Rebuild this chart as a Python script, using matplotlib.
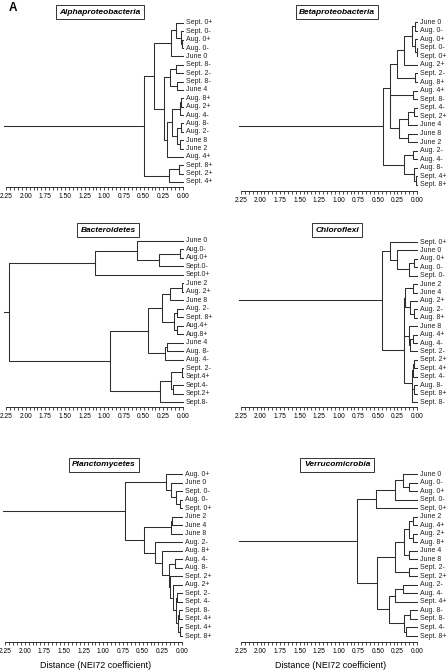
import matplotlib
matplotlib.use('Agg')
import matplotlib.pyplot as plt
from matplotlib.ticker import MultipleLocator

plt.rcParams['font.family'] = ['Liberation Sans', 'DejaVu Sans']

W, H = 448, 671

# ── 데이터: 잎 라벨(위→아래) + 병합 (a, b, 거리) ; 새 노드 id는 20부터 ──
alpha_labels = ["Sept. 0+", "Sept. 0-", "Aug. 0+", "Aug. 0-", "June 0",
                "Sept. 8-", "Sept. 2-", "Sept. 8-", "June 4", "Aug. 8+",
                "Aug. 2+", "Aug. 4-", "Aug. 8-", "Aug. 2-", "June 8",
                "June 2", "Aug. 4+", "Sept. 8+", "Sept. 2+", "Sept. 4+"]
alpha_merges = [(2, 3, 0.01), (1, 20, 0.03), (0, 21, 0.09), (22, 4, 0.15),
                (5, 6, 0.09), (7, 8, 0.08), (24, 25, 0.17), (9, 10, 0.02),
                (27, 11, 0.04), (12, 13, 0.02), (14, 15, 0.04), (29, 30, 0.07),
                (28, 31, 0.14), (32, 16, 0.20), (26, 33, 0.245), (23, 34, 0.365),
                (17, 18, 0.05), (36, 19, 0.175), (35, 37, 0.50)]

beta_labels = ["June 0", "Aug. 0-", "Aug. 0+", "Sept. 0-", "Sept. 0+",
               "Aug. 2+", "Sept. 2-", "Aug. 8+", "Aug. 4+", "Sept. 8-",
               "Sept. 4-", "Sept. 2+", "June 4", "June 8", "June 2",
               "Aug. 2-", "Aug. 4-", "Aug. 8-", "Sept. 4+", "Sept. 8+"]
beta_merges = [(0, 1, 0.02), (3, 4, 0.005), (2, 21, 0.02), (20, 22, 0.07),
               (23, 5, 0.16), (6, 7, 0.02), (24, 25, 0.25), (8, 9, 0.055),
               (10, 11, 0.035), (28, 12, 0.11), (13, 14, 0.115), (29, 30, 0.225),
               (27, 31, 0.34), (26, 32, 0.35), (15, 16, 0.055), (18, 19, 0.01),
               (17, 35, 0.04), (34, 36, 0.17), (33, 37, 0.43)]

bact_labels = ["June 0", "Aug.0-", "Aug.0+", "Sept.0-", "Sept.0+",
               "June 2", "Aug. 2+", "June 8", "Aug. 2-", "Sept. 8+",
               "Aug.4+", "Aug.8+", "June 4", "Aug. 8-", "Aug. 4-",
               "Sept. 2-", "Sept.4+", "Sept.4-", "Sept.2+", "Sept.8-"]
bact_merges = [(1, 2, 0.035), (20, 3, 0.31), (0, 21, 0.585), (22, 4, 1.125),
               (5, 6, 0.015), (24, 7, 0.16), (8, 9, 0.075), (10, 11, 0.075),
               (26, 27, 0.12), (25, 28, 0.27), (12, 13, 0.205), (30, 14, 0.225),
               (29, 31, 0.445), (15, 16, 0.015), (17, 18, 0.13), (33, 34, 0.15),
               (35, 19, 0.29), (32, 36, 0.925), (23, 37, 2.21)]

chloro_labels = ["Sept. 0+", "June 0", "Aug. 0+", "Aug. 0-", "Sept. 0-",
                 "June 2", "June 4", "Aug. 2+", "Aug. 2-", "Aug. 8+",
                 "June 8", "Aug. 4+", "Aug. 4-", "Sept. 2-", "Sept. 2+",
                 "Sept. 4+", "Sept. 4-", "Aug. 8-", "Sept. 8+", "Sept. 8-"]
chloro_merges = [(2, 3, 0.04), (20, 4, 0.105), (1, 21, 0.255), (0, 22, 0.34),
                 (5, 6, 0.055), (8, 9, 0.04), (7, 25, 0.095), (24, 26, 0.15),
                 (11, 12, 0.05), (28, 13, 0.09), (10, 29, 0.105), (27, 30, 0.16),
                 (14, 15, 0.035), (32, 16, 0.05), (17, 18, 0.04), (34, 19, 0.065),
                 (33, 35, 0.07), (31, 36, 0.17), (23, 37, 0.45)]

planc_labels = ["Aug. 0+", "June 0", "Sept. 0-", "Aug. 0-", "Sept. 0+",
                "June 2", "June 4", "June 8", "Aug. 2-", "Aug. 8+",
                "Aug. 4-", "Aug. 8-", "Sept. 2+", "Aug. 2+", "Sept. 2-",
                "Sept. 4-", "Sept. 8-", "Sept. 4+", "Sept. 4+", "Sept. 8+"]
planc_merges = [(3, 4, 0.02), (2, 20, 0.07), (1, 21, 0.14), (0, 22, 0.20),
                (5, 6, 0.13), (24, 7, 0.135), (14, 15, 0.065), (16, 17, 0.04),
                (18, 19, 0.02), (27, 28, 0.055), (26, 29, 0.075), (13, 30, 0.11),
                (12, 31, 0.155), (10, 11, 0.085), (33, 32, 0.17), (9, 34, 0.26),
                (8, 35, 0.345), (25, 36, 0.48), (23, 37, 0.73)]

verru_labels = ["June 0", "Aug. 0-", "Aug. 0+", "Sept. 0-", "Sept. 0+",
                "June 2", "Aug. 4+", "Aug. 2+", "Aug. 8+", "June 4",
                "June 8", "Sept. 2-", "Sept. 2+", "Aug. 2-", "Aug. 4-",
                "Sept. 4+", "Aug. 8-", "Sept. 8-", "Sept. 4-", "Sept. 8+"]
verru_merges = [(1, 2, 0.105), (0, 20, 0.18), (21, 3, 0.285), (22, 4, 0.52),
                (5, 6, 0.055), (7, 8, 0.055), (24, 25, 0.105), (9, 10, 0.10),
                (26, 27, 0.17), (11, 12, 0.105), (28, 29, 0.285), (13, 14, 0.18),
                (31, 15, 0.285), (16, 17, 0.085), (18, 19, 0.135), (33, 34, 0.16),
                (32, 35, 0.355), (30, 36, 0.51), (23, 37, 0.765)]

ticks = [2.25, 2.00, 1.75, 1.50, 1.25, 1.00, 0.75, 0.50, 0.25, 0.00]

# (제목, 라벨, 병합, x0px, x1px, 첫잎 y, 끝잎 y, 축 y, 제목 중심)
panels = [
    ("Alphaproteobacteria", alpha_labels, alpha_merges, 6, 183, 23, 182, 187, (100, 12)),
    ("Betaproteobacteria", beta_labels, beta_merges, 241, 417, 22, 185, 191, (337, 12)),
    ("Bacteroidetes", bact_labels, bact_merges, 6, 183, 241, 402, 407, (108, 230)),
    ("Chloroflexi", chloro_labels, chloro_merges, 241, 417, 242, 402, 407, (337, 230)),
    ("Planctomycetes", planc_labels, planc_merges, 5, 182, 474, 636, 642, (104, 465)),
    ("Verrucomicrobia", verru_labels, verru_merges, 241, 417, 474, 636, 642, (337, 465)),
]

LINE = '#2e2e2e'


def draw_tree(ax, labels, merges):
    ypos = list(range(len(labels)))
    hts = [0.0] * len(labels)
    for a, b, h in merges:
        ax.plot([hts[a], h, h, hts[b]], [ypos[a], ypos[a], ypos[b], ypos[b]],
                color=LINE, lw=0.75, clip_on=False)
        ypos.append((ypos[a] + ypos[b]) / 2)
        hts.append(h)
    # 루트 줄기
    ax.plot([hts[-1], 2.27], [ypos[-1], ypos[-1]], color=LINE, lw=0.75, clip_on=False)
    for i, lab in enumerate(labels):
        ax.text(-0.035, i, lab, ha='left', va='center', fontsize=5, color='#222222',
                clip_on=False)


fig = plt.figure(figsize=(W / 100, H / 100), dpi=100)

for title, labels, merges, x0, x1, y_first, y_last, y_axis, tpos in panels:
    n = len(labels)
    d = (y_last - y_first) / (n - 1)
    top_px = y_first - d * 0.5
    ax = fig.add_axes([x0 / W, 1 - y_axis / H, (x1 - x0) / W, (y_axis - top_px) / H])
    ax.set_xlim(2.25, 0.0)
    ax.set_ylim(n - 1 + (y_axis - y_last) / d, -0.5)
    draw_tree(ax, labels, merges)

    for s in ['top', 'right', 'left']:
        ax.spines[s].set_visible(False)
    ax.spines['bottom'].set_linewidth(0.7)
    ax.spines['bottom'].set_color(LINE)
    ax.set_yticks([])
    ax.set_xticks(ticks)
    ax.set_xticklabels([f"{t:.2f}" for t in ticks])
    ax.xaxis.set_minor_locator(MultipleLocator(0.05))
    ax.tick_params(axis='x', which='both', direction='out', length=2, width=0.6,
                   color=LINE, labelsize=4.8, pad=2.5)
    ax.patch.set_alpha(0)

    fig.text(tpos[0] / W, 1 - tpos[1] / H, title, ha='center', va='center',
             fontsize=6, fontweight='bold', fontstyle='italic',
             bbox=dict(boxstyle='square,pad=0.4', fc='white', ec='#333333', lw=0.7))

fig.text(13 / W, 1 - 8 / H, "A", ha='center', va='center', fontsize=8.5, fontweight='bold')
fig.text(96 / W, 1 - 665 / H, "Distance (NEI72 coefficient)", ha='center', va='center', fontsize=6.4)
fig.text(331 / W, 1 - 665 / H, "Distance (NEI72 coefficient)", ha='center', va='center', fontsize=6.4)

fig.savefig("out.png", dpi=100)
